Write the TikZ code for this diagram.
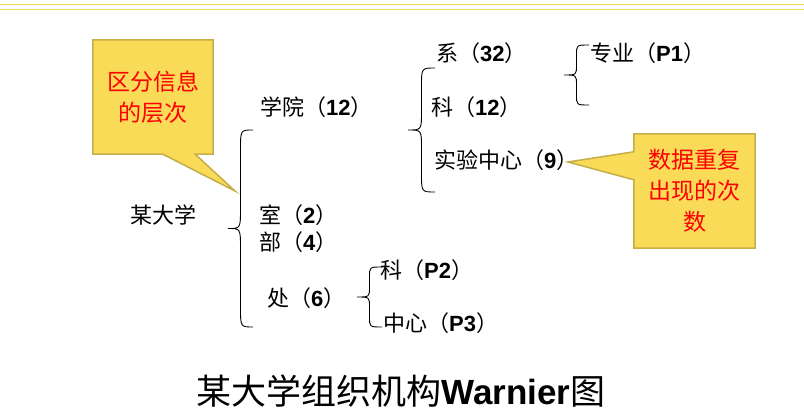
\documentclass[tikz,border=0pt]{standalone}
\usepackage{fontspec}
\setmainfont{Noto Sans CJK SC}
\newfontfamily\numfont{Liberation Sans}
\usepackage{tikz}
\usetikzlibrary{positioning, calc}
\pgfdeclarelayer{background}
\pgfsetlayers{background,main}
\definecolor{slideyellow}{RGB}{250,216,80}
\definecolor{calloutfill}{RGB}{249,219,88}
\definecolor{calloutline}{RGB}{196,174,72}
\newcommand{\Num}[1]{{\numfont\bfseries #1}}
% x of the ends, top y, bottom y, width, curl
\newcommand{\WBrace}[5]{%
  \draw[brace line] (#1,#2) .. controls ({#1-#4/2},#2) .. ({#1-#4/2},{#2+#5})
    -- ({#1-#4/2},{(#2+#3)/2-#5}) .. controls ({#1-#4/2},{(#2+#3)/2}) .. ({#1-#4},{(#2+#3)/2})
    .. controls ({#1-#4/2},{(#2+#3)/2}) .. ({#1-#4/2},{(#2+#3)/2+#5})
    -- ({#1-#4/2},{#3-#5}) .. controls ({#1-#4/2},#3) .. (#1,#3);
}
\tikzset{
    item/.style={anchor=west, inner sep=0pt, font=\fontsize{22}{26}\selectfont},
    tip text/.style={text=red, align=center, inner sep=0pt, minimum width=120pt,
      minimum height=114pt, font=\fontsize{23}{31}\selectfont},
    callout/.style={fill=calloutfill, draw=calloutline, line width=1.5pt, line join=miter},
    brace line/.style={line width=0.9pt},
    rule line/.style={draw=slideyellow, line width=1.4pt},
}

\begin{document}
\begin{tikzpicture}[x=1pt, y=-1pt]
    \useasboundingbox (0,0) rectangle (804,414);

    \draw[rule line] (0,4.3) -- (804,4.3);
    \draw[rule line] (0,9.3) -- (804,9.3);

    \node[item] (univ) at (130,215) {某大学};
    \node[item] (college) at (260,107) {学院（\Num{12}）};
    \node[item] (room) at (259,215) {室（\Num{2}）};
    \node[item] (dept) at (259,242) {部（\Num{4}）};
    \node[item] (office) at (267,298) {处（\Num{6}）};
    \node[item] (sect) at (380,270) {科（\Num{P2}）};
    \node[item] (centre) at (383,323) {中心（\Num{P3}）};
    \node[item] (xi) at (436,53) {系（\Num{32}）};
    \node[item] (ke) at (431,107) {科（\Num{12}）};
    \node[item] (lab) at (434,160) {实验中心（\Num{9}）};
    \node[item] (major) at (590,53) {专业（\Num{P1}）};

    \WBrace{253}{130}{327}{25}{20}
    \WBrace{435}{68}{192}{27}{18}
    \WBrace{589}{45}{105}{25}{10}
    \WBrace{382}{267}{327}{25}{10}

    \node[tip text] (levelnote) at (153,97) {区分信息\\的层次};
    \node[tip text, minimum width=121pt] (countnote) at (694.5,191) {数据重复\\出现的次\\数};
    \coordinate (levelptr) at (235,191);
    \coordinate (countptr) at (568,162);

    \begin{pgfonlayer}{background}
      \draw[callout] (levelnote.north west) -- (levelnote.north east) -- (levelnote.south east)
        -- ([xshift=-18pt]levelnote.south east) -- (levelptr)
        -- ([xshift=70pt]levelnote.south west) -- (levelnote.south west) -- cycle;
      \draw[callout] (countnote.north west) -- (countnote.north east) -- (countnote.south east)
        -- (countnote.south west) -- ([yshift=-46pt]countnote.north west) -- (countptr)
        -- ([yshift=-18pt]countnote.north west) -- cycle;
    \end{pgfonlayer}

    \node[inner sep=0pt, font=\fontsize{35}{40}\selectfont] (title) at (401,391)
      {某大学组织机构\Num{Warnier}图};
\end{tikzpicture}
\end{document}
